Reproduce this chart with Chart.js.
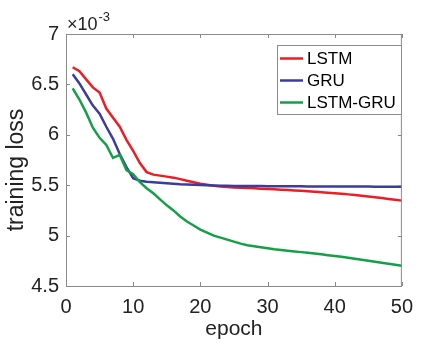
<!DOCTYPE html>
<html>
<head>
<meta charset="utf-8">
<script src="https://cdn.jsdelivr.net/npm/chart.js@4"></script>
<style>
  body { margin: 0; background: #fff; }
  #wrap { width: 422px; height: 344px; }
</style>
</head>
<body>
<div id="wrap"><canvas id="lossChart" width="422" height="344"></canvas></div>
<script>
// training loss per epoch, in units of 1e-3
const epochs = Array.from({ length: 50 }, (_, i) => i + 1);

const lstmLoss = [
  6.67, 6.63, 6.55, 6.47, 6.42, 6.26, 6.17, 6.08, 5.95, 5.84,
  5.72, 5.63, 5.605, 5.595, 5.585, 5.575, 5.56, 5.545, 5.53, 5.515,
  5.505, 5.495, 5.487, 5.482, 5.478, 5.475, 5.472, 5.469, 5.466, 5.463,
  5.46, 5.456, 5.452, 5.448, 5.444, 5.44, 5.436, 5.431, 5.426, 5.421,
  5.415, 5.409, 5.402, 5.395, 5.388, 5.38, 5.372, 5.364, 5.356, 5.347
];
const gruLoss = [
  6.60, 6.51, 6.40, 6.29, 6.21, 6.08, 5.96, 5.81, 5.68, 5.57,
  5.545, 5.535, 5.53, 5.525, 5.52, 5.515, 5.51, 5.507, 5.504, 5.501,
  5.499, 5.497, 5.495, 5.494, 5.493, 5.492, 5.492, 5.491, 5.491, 5.49,
  5.49, 5.49, 5.489, 5.489, 5.489, 5.488, 5.488, 5.488, 5.487, 5.487,
  5.487, 5.486, 5.486, 5.486, 5.486, 5.485, 5.485, 5.485, 5.485, 5.485
];
const lstmGruLoss = [
  6.46, 6.35, 6.22, 6.07, 5.97, 5.90, 5.77, 5.80, 5.65, 5.61,
  5.53, 5.47, 5.42, 5.36, 5.30, 5.25, 5.19, 5.14, 5.10, 5.06,
  5.03, 5.00, 4.98, 4.96, 4.94, 4.92, 4.905, 4.895, 4.885, 4.875,
  4.865, 4.857, 4.85, 4.843, 4.836, 4.83, 4.822, 4.814, 4.806, 4.798,
  4.79, 4.78, 4.77, 4.76, 4.75, 4.74, 4.73, 4.72, 4.71, 4.70
];

const xTicks = [0, 10, 20, 30, 40, 50];
const yTicks = [4.5, 5, 5.5, 6, 6.5, 7];

const FONT = '"Liberation Sans", Arial, sans-serif';
const axisColor = '#8a8a8a';
const textColor = '#222';

function toPoints(vals) {
  return vals.map((v, i) => ({ x: epochs[i], y: v }));
}

// box, inward ticks, exponent, y label and legend
const matlabAxes = {
  id: 'matlabAxes',
  afterDatasetsDraw(chart) {
    const { ctx, chartArea: a, scales } = chart;
    const tl = 4;
    ctx.save();
    ctx.strokeStyle = axisColor;
    ctx.lineWidth = 1;
    ctx.strokeRect(a.left + 0.5, a.top + 0.5, a.right - a.left - 1, a.bottom - a.top);
    ctx.beginPath();
    xTicks.forEach(t => {
      const x = Math.round(scales.x.getPixelForValue(t)) + 0.5;
      ctx.moveTo(x, a.bottom); ctx.lineTo(x, a.bottom - tl);
      ctx.moveTo(x, a.top); ctx.lineTo(x, a.top + tl);
    });
    yTicks.forEach(t => {
      const y = Math.round(scales.y.getPixelForValue(t)) + 0.5;
      ctx.moveTo(a.left, y); ctx.lineTo(a.left + tl, y);
      ctx.moveTo(a.right, y); ctx.lineTo(a.right - tl, y);
    });
    ctx.stroke();

    // exponent label
    ctx.fillStyle = textColor;
    ctx.textBaseline = 'alphabetic';
    ctx.textAlign = 'left';
    ctx.font = '18px ' + FONT;
    ctx.fillText('\u00d710', a.left + 1, 30);
    const w = ctx.measureText('\u00d710').width;
    ctx.font = '13px ' + FONT;
    ctx.fillText('-3', a.left + 1 + w + 1, 21);

    // y axis label
    ctx.save();
    ctx.translate(17, 170);
    ctx.rotate(-Math.PI / 2);
    ctx.font = '23px ' + FONT;
    ctx.textAlign = 'center';
    ctx.textBaseline = 'middle';
    ctx.fillText('training loss', 0, 0);
    ctx.restore();

    // legend
    const lx = 277, ly = 45, lw = 124, lh = 69;
    ctx.fillStyle = '#fff';
    ctx.fillRect(lx, ly, lw, lh);
    ctx.strokeStyle = axisColor;
    ctx.strokeRect(lx + 0.5, ly + 0.5, lw, lh);
    ctx.font = '17px ' + FONT;
    ctx.textBaseline = 'middle';
    const rows = [58.5, 80.5, 102.5];
    chart.data.datasets.forEach((ds, i) => {
      const y = rows[i];
      ctx.strokeStyle = ds.borderColor;
      ctx.lineWidth = 2.5;
      ctx.beginPath();
      ctx.moveTo(280, y); ctx.lineTo(303, y);
      ctx.stroke();
      ctx.fillStyle = '#000';
      ctx.fillText(ds.label, 307, y + 1);
    });
    ctx.restore();
  }
};

new Chart(document.getElementById('lossChart'), {
  type: 'line',
  data: {
    datasets: [
      { label: 'LSTM', data: toPoints(lstmLoss), borderColor: '#ee1c24', order: 2 },
      { label: 'GRU', data: toPoints(gruLoss), borderColor: '#3a3c9e', order: 1 },
      { label: 'LSTM-GRU', data: toPoints(lstmGruLoss), borderColor: '#14a046', order: 0 }
    ]
  },
  options: {
    responsive: false,
    animation: false,
    devicePixelRatio: 1,
    layout: { padding: { top: 34, right: 11, left: 0, bottom: 0 } },
    elements: {
      line: { borderWidth: 2.5, tension: 0, fill: false },
      point: { radius: 0 }
    },
    plugins: {
      legend: { display: false },
      tooltip: { enabled: false }
    },
    scales: {
      x: {
        type: 'linear',
        min: 0, max: 50,
        afterBuildTicks: s => { s.ticks = xTicks.map(v => ({ value: v })); },
        afterFit: s => { s.height = 58; },
        grid: { display: false, drawTicks: false },
        border: { display: false },
        ticks: { font: { family: FONT, size: 20 }, color: textColor, padding: 9, maxRotation: 0, callback: v => String(v) },
        title: { display: true, text: 'epoch', font: { family: FONT, size: 21 }, color: textColor, padding: { top: 0, bottom: 2 } }
      },
      y: {
        min: 4.5, max: 7,
        afterBuildTicks: s => { s.ticks = yTicks.map(v => ({ value: v })); },
        afterFit: s => { s.width = 66; },
        grid: { display: false, drawTicks: false },
        border: { display: false },
        ticks: { font: { family: FONT, size: 20 }, color: textColor, padding: 7, callback: v => String(v) }
      }
    }
  },
  plugins: [matlabAxes]
});
</script>
</body>
</html>
